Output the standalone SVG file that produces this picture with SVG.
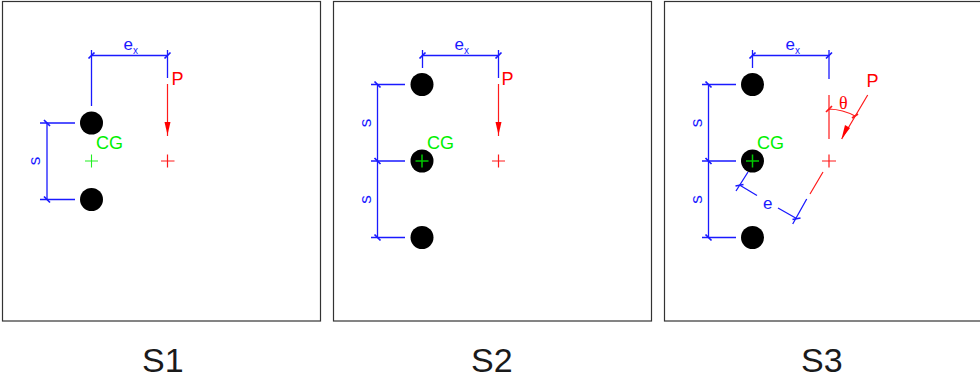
<svg xmlns="http://www.w3.org/2000/svg" width="980" height="379" viewBox="0 0 980 379">
<style>
text{font-family:"Liberation Sans",Arial,sans-serif}
.frame{fill:#fff;stroke:#333;stroke-width:1.2}
.b{stroke:#1a1aff;stroke-width:1.3;fill:none}
.r{stroke:#ff1a1a;stroke-width:1.2;fill:none}
.g{stroke:#22f022;stroke-width:1.1;fill:none}
.dg{stroke:#00c800;stroke-width:1.5;fill:none}
.t{stroke-width:1.7}
.bt{fill:#1a1aff;font-size:17px}
.sub{fill:#1a1aff;font-size:10px}
.rt{fill:#ff0000;font-size:18px}
.gt{fill:#00f000;font-size:18px}
.cap{fill:#1a1a1a;font-size:34px}
.bolt{fill:#000}
.head{fill:#ff0000}
</style>
<rect width="980" height="379" fill="#fff"/>
<g id="panel-s1">
<rect class="frame" x="2.5" y="1.5" width="318" height="319.5"/>
<text class="cap" x="142" y="372">S1</text>
</g>
<g id="panel-s2">
<rect class="frame" x="333.5" y="1.5" width="318" height="319.5"/>
<text class="cap" x="471" y="372">S2</text>
</g>
<g id="panel-s3">
<rect class="frame" x="664.5" y="1.5" width="320" height="319.5"/>
<text class="cap" x="801" y="372">S3</text>
</g>
<g id="connectors">
<!-- S1 -->
<path class="b" d="M91.500 50V106M167.500 50V78M91.500 55.500H167.500"/>
<path class="b t" d="M88.500 58.500L94.500 52.500M164.500 58.500L170.500 52.500"/>
<path class="b" d="M40 123H75M40 199.500H75M47 123V199.500"/>
<path class="b t" d="M44 120L50 126M44 196.500L50 202.500"/>
<path class="r" d="M167.500 84V136"/>
<path class="head" d="M164.500 122H170.500L167.500 135Z"/>
<!-- S2 -->
<path class="b" d="M422.500 50V68M498.500 50V78M422.500 55.500H498.500"/>
<path class="b t" d="M419.500 58.500L425.500 52.500M495.500 58.500L501.500 52.500"/>
<path class="b" d="M371 84.500H405M371 161H405M371 237.500H405M377.500 84.500V237.500"/>
<path class="b t" d="M374.500 81.500L380.500 87.500M374.500 158L380.500 164M374.500 234.500L380.500 240.500"/>
<path class="r" d="M498.500 84V136"/>
<path class="head" d="M495.500 122H501.500L498.500 135Z"/>
<!-- S3 -->
<path class="b" d="M752.500 50V68M829 50V79M752.500 55.500H829"/>
<path class="b t" d="M749.500 58.500L755.500 52.500M826 58.500L832 52.500"/>
<path class="b" d="M702 84.500H736M702 161H736M702 237.500H736M708.500 84.500V237.500"/>
<path class="b t" d="M705.500 81.500L711.500 87.500M705.500 158L711.500 164M705.500 234.500L711.500 240.500"/>
<path class="b" d="M748 172L736 191M739.500 185L757 195.500M778 208L796.500 218.500M806.700 199L792.700 224"/>
<path class="b t" d="M735.500 186L743.500 184.500M792.500 219.500L800.500 218"/>
<path class="r" d="M810 194L823 172M829 95V139M867.700 95L841.700 139M829 109Q843 109.500 855 116"/>
<path class="r t" d="M826 112L832 106M852 118L858 114"/>
<path class="head" d="M845 125L850 128L841.500 139Z"/>
</g>
<g id="s1-bolts">
<circle class="bolt" cx="91.500" cy="123" r="11.500"/>
<circle class="bolt" cx="91.500" cy="199.500" r="11.500"/>
</g>
<g id="s2-bolts">
<circle class="bolt" cx="422" cy="84.500" r="11.500"/>
<circle class="bolt" cx="422" cy="161" r="11.500"/>
<circle class="bolt" cx="422" cy="237.500" r="11.500"/>
</g>
<g id="s3-bolts">
<circle class="bolt" cx="752.500" cy="84.500" r="11.500"/>
<circle class="bolt" cx="752.500" cy="161" r="11.500"/>
<circle class="bolt" cx="752.500" cy="237.500" r="11.500"/>
</g>
<g id="s1-cg">
<path class="g" d="M85 161H98M91.500 154.500V167.500"/>
<text class="gt" x="96" y="149">CG</text>
</g>
<g id="s2-cg">
<path class="dg" d="M415.500 161H428.500M422 154.500V167.500"/>
<text class="gt" x="427" y="149">CG</text>
</g>
<g id="s3-cg">
<path class="dg" d="M746 161H759M752.500 154.500V167.500"/>
<text class="gt" x="757" y="149">CG</text>
</g>
<g id="s1-load">
<path class="r" d="M161 161H174.500M167.500 154.500V167.500"/>
<text class="rt" x="171.500" y="85">P</text>
</g>
<g id="s2-load">
<path class="r" d="M492 161H505M498.500 154.500V167.500"/>
<text class="rt" x="501.500" y="85">P</text>
</g>
<g id="s3-load">
<path class="r" d="M822 161H836M829 154.500V167.500"/>
<text class="rt" x="866.500" y="87">P</text>
<text x="839" y="108.500" fill="#ff0000" font-size="18" style="font-family:'Liberation Serif',serif">θ</text>
</g>
<g id="s1-labels">
<text class="bt" x="123.500" y="49.500">e</text><text class="sub" x="133" y="53.500">x</text>
<text class="bt" transform="translate(40 161) rotate(-90)" text-anchor="middle">s</text>
</g>
<g id="s2-labels">
<text class="bt" x="454.500" y="49.500">e</text><text class="sub" x="464" y="53.500">x</text>
<text class="bt" transform="translate(371 123) rotate(-90)" text-anchor="middle">s</text>
<text class="bt" transform="translate(371 199.500) rotate(-90)" text-anchor="middle">s</text>
</g>
<g id="s3-labels">
<text class="bt" x="785.500" y="49.500">e</text><text class="sub" x="795" y="53.500">x</text>
<text class="bt" transform="translate(702 123) rotate(-90)" text-anchor="middle">s</text>
<text class="bt" transform="translate(702 199.500) rotate(-90)" text-anchor="middle">s</text>
<text class="bt" x="763" y="208.500">e</text>
</g>
</svg>
